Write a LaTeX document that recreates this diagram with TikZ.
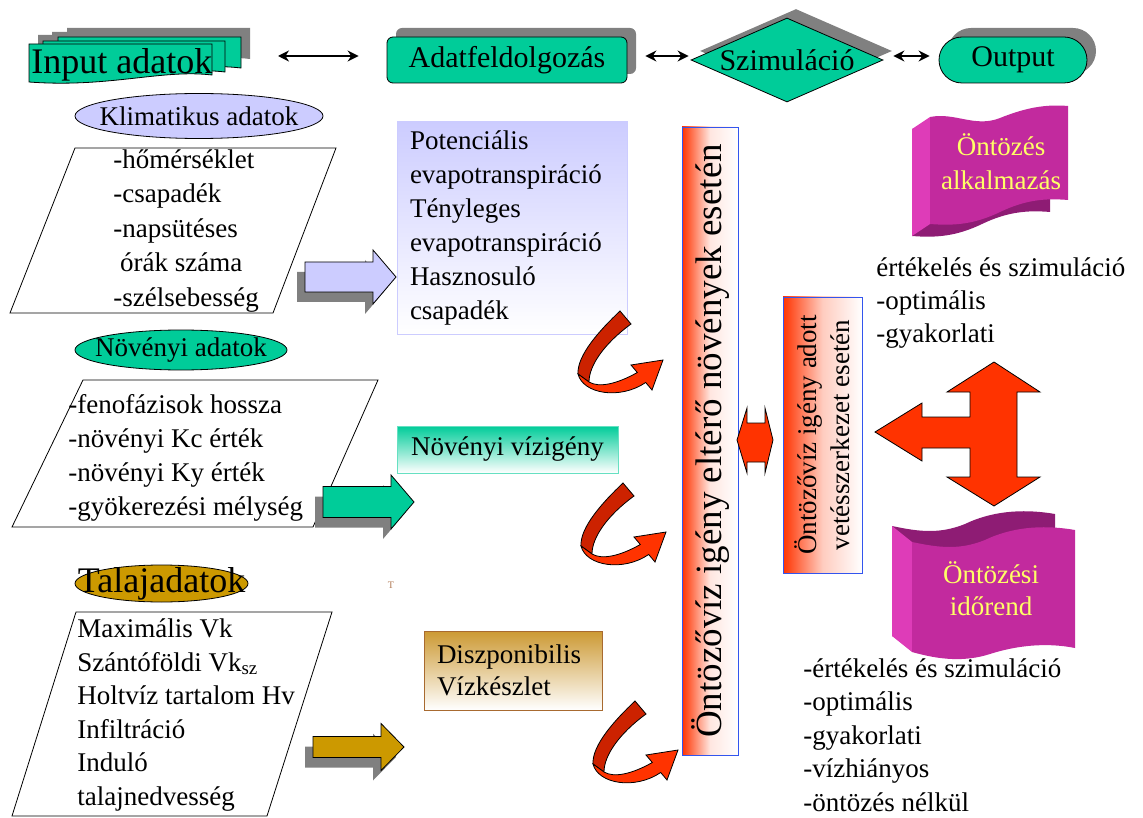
\documentclass[tikz,border=0pt]{standalone}
\usepackage{fontspec}
\setmainfont{Liberation Serif}
\usetikzlibrary{shapes.geometric,shadows,arrows.meta,positioning}

\definecolor{seagreen}{HTML}{00CC99}
\definecolor{lavender}{HTML}{CCCCFF}
\definecolor{golden}{HTML}{CC9900}
\definecolor{dispgold}{HTML}{CC9933}
\definecolor{dispbrown}{HTML}{A86A30}
\definecolor{shadowgray}{HTML}{808080}
\definecolor{hotred}{HTML}{FF3300}
\definecolor{darkred}{HTML}{CC2200}
\definecolor{flagpink}{HTML}{C22A9E}
\definecolor{flagdark}{HTML}{8E1C74}
\definecolor{flaglight}{HTML}{DE3CB8}
\definecolor{flagtext}{HTML}{FFFF66}
\definecolor{boxblue}{HTML}{3355EE}
\definecolor{tbrown}{HTML}{B07A55}

\tikzstyle{huge} = [font=\fontsize{36}{42}\selectfont]
\tikzstyle{big} = [font=\fontsize{30}{36}\selectfont]
\tikzstyle{txt} = [font=\fontsize{27}{34}\selectfont, inner sep=0pt, align=left]
\tikzstyle{upshadow} = [general shadow={fill=shadowgray, shadow xshift=9pt, shadow yshift=9pt}]
\tikzstyle{proc} = [rectangle, draw, fill=seagreen, upshadow, big, minimum height=46pt, inner sep=0pt]
\tikzstyle{dataell} = [ellipse, draw, inner sep=0pt]
\tikzstyle{para} = [draw, fill=white]
\tikzstyle{result} = [rectangle, draw, txt, inner xsep=13pt, inner ysep=0pt]
\tikzstyle{needbox} = [rectangle, draw=boxblue, rotate=90, inner sep=0pt]
\tikzstyle{redfade} = [left color=hotred, right color=white, middle color=white!88!hotred]
\tikzstyle{flagtxt} = [txt, align=center, text=flagtext]
\tikzstyle{dbl} = [{Stealth[length=11pt,width=11pt]}-{Stealth[length=11pt,width=11pt]}, line width=2pt]
\tikzstyle{bigarrow} = [draw, fill=hotred]

% one sheet of the input stack: left, top, right, bottom right, bottom left
\newcommand{\card}[5]{(#1,#2) -- (#3,#2) -- (#3,#4) .. controls (#3-50,#4-6) and (#1+80,#5+6) .. (#1,#5) -- cycle}
% block arrow with shadow: tail x, centre y, shaft half, head half, colour
\newcommand{\blockarrow}[5]{%
  \begin{scope}[shift={(#1,#2)}]
    \fill[shadowgray] (-8,10-#3) -- (60,10-#3) -- (60,10-#4) -- (83,10) -- (60,10+#4) -- (60,10+#3) -- (-8,10+#3) -- cycle;
    \filldraw[fill=#5] (0,-#3) -- (68,-#3) -- (68,-#4) -- (91,0) -- (68,#4) -- (68,#3) -- (0,#3) -- cycle;
  \end{scope}}
% curved red arrow
\newcommand{\uturn}[2]{%
  \begin{scope}[shift={(#1,#2)}]
    \filldraw[fill=darkred] (45,1) .. controls (25,20) and (2,45) .. (3,64) -- (14,72) .. controls (14,55) and (30,33) .. (56,14) -- cycle;
    \filldraw[fill=hotred] (3,64) .. controls (8,84) and (45,90) .. (70.7,72.5) -- (77,80) -- (88,50) -- (56,55) -- (62.3,62.5) .. controls (42,74) and (24,78) .. (14,72) -- cycle;
  \end{scope}}
% wavy sheets
\newcommand{\waveone}{(930,117) .. controls (955,112) and (975,128) .. (1000,118) .. controls (1025,108) and (1045,104) .. (1068,106) -- (1068,200) .. controls (1045,198) and (1025,200) .. (1000,212) .. controls (975,224) and (955,226) .. (930,224) -- cycle}
\newcommand{\wavetwo}{(912,542) .. controls (940,548) and (960,550) .. (985,540) .. controls (1010,528) and (1040,524) .. (1075,530) -- (1075,648) .. controls (1045,642) and (1015,646) .. (990,654) .. controls (965,662) and (940,660) .. (912,652) -- cycle}

\begin{document}
\begin{tikzpicture}[x=1pt, y=-1pt, line width=0.8pt]
	\useasboundingbox (0,0) rectangle (1143,818);

	% Top row
	\fill[shadowgray, shift={(9,-9)}] \card{58}{37}{241}{68}{72};
	\fill[shadowgray, shift={(9,-9)}] \card{43}{41}{225}{72}{76};
	\fill[shadowgray, shift={(9,-9)}] \card{29}{44}{212}{75}{82};
	\filldraw[fill=seagreen] \card{58}{37}{241}{68}{72};
	\filldraw[fill=seagreen] \card{43}{41}{225}{72}{76};
	\filldraw[fill=seagreen] \card{29}{44}{212}{75}{82};
	\node [huge, inner sep=0pt, anchor=base west] (input) at (31,74) {Input adatok};
	\coordinate (cards) at (241,56);
	\node [proc, rounded corners=6pt, minimum width=240pt] (adat) at (507,60) {Adatfeldolgozás};
	\node [diamond, draw, fill=seagreen, upshadow, minimum width=192pt, minimum height=84pt, inner sep=0pt,
		label={[big]center:Szimuláció}] (sim) at (787,60) {};
	\node [proc, rounded corners=23pt, minimum width=148pt] (output) at (1013,60) {Output};

	\draw [dbl, shorten <=37pt, shorten >=28pt] (cards) -- (adat.west |- cards);
	\draw [dbl, shorten <=18pt, shorten >=2pt] (adat.east |- cards) -- (sim.west |- cards);
	\draw [dbl, shorten <=10pt, shorten >=9pt] (sim.east |- cards) -- (output.west |- cards);

	% Input data
	\node [dataell, fill=lavender, minimum width=248pt, minimum height=45pt,
		label={[txt]center:Klimatikus adatok}] (klim) at (199,116) {};
	\path [para] (75,148) -- (336,148) -- (273,313) -- (10,313) -- cycle;
	\node [txt, anchor=west, font=\fontsize{27}{34.5}\selectfont] (klimlist) at (113,231) {-hőmérséklet\\-csapadék\\-napsütéses\\\hspace*{0.25em}órák száma\\-szélsebesség};

	\node [dataell, fill=seagreen, minimum width=212pt, minimum height=40pt,
		label={[txt]center:Növényi adatok}] (noveny) at (181,350) {};
	\path [para] (83,380) -- (378,380) -- (313,527) -- (12,527) -- cycle;
	\node [txt, anchor=west] (novlist) at (68,458.2) {-fenofázisok hossza\\-növényi Kc érték\\-növényi Ky érték\\-gyökerezési mélység};

	\node [dataell, fill=golden, minimum width=173pt, minimum height=37pt,
		label={[huge, inner sep=0pt]center:Talajadatok}] (talaj) at (161.5,583.5) {};
	\path [para] (76,612) -- (332,612) -- (267,816) -- (12,816) -- cycle;
	\node [txt, anchor=west, font=\fontsize{27}{33.5}\selectfont] (talajlist) at (77,715) {Maximális Vk\\Szántóföldi Vk\textsubscript{sz}\\Holtvíz tartalom Hv\\Infiltráció\\Induló\\talajnedvesség};
	\node [font=\fontsize{10}{12}\selectfont, text=tbrown] (tmark) at (391,585) {T};

	\blockarrow{305}{277}{15}{27}{lavender}
	\blockarrow{323}{502}{15.5}{27}{seagreen}
	\blockarrow{313}{747}{10.5}{23.5}{golden}

	% Results
	\node [result, draw=lavender, top color=lavender, bottom color=white, minimum width=230pt,
		minimum height=213pt, text width=204pt] (evapo) at (512,228)
		{Potenciális\\evapotranspiráció\\Tényleges\\evapotranspiráció\\Hasznosuló\\csapadék};
	\node [result, draw=seagreen!60, top color=seagreen, bottom color=white, minimum width=221pt,
		minimum height=47pt] (vizigeny) at (507.5,449.5) {Növényi vízigény};
	\node [result, draw=dispbrown, top color=dispgold, bottom color=white, minimum width=178pt,
		minimum height=79pt, text width=152pt, font=\fontsize{27}{32}\selectfont] (keszlet) at (513,670.5)
		{Diszponibilis\\Vízkészlet};

	\uturn{575}{310}
	\uturn{578}{482}
	\uturn{590}{700}

	% Irrigation demand
	\shade [redfade] (682,127) rectangle (738,755);
	\node [needbox, minimum width=628pt, minimum height=56pt,
		font=\fontsize{37}{44}\selectfont] (igeny) at (710,441) {Öntözővíz igény eltérő növények esetén};
	\shade [left color=hotred, right color=white, middle color=white!75!hotred] (783,297) rectangle (862,573);
	\node [needbox, minimum width=276pt, minimum height=79pt, txt, align=center,
		font=\fontsize{27}{33}\selectfont] (vetes) at (822.5,435) {Öntözővíz igény adott\\vetésszerkezet esetén};
	\path [bigarrow] (737,440) -- (747,408) -- (747,423) -- (765,423) -- (765,408) -- (773,440)
		-- (765,473) -- (765,462) -- (747,462) -- (747,473) -- cycle;

	% Output side
	\fill[flagdark, shift={(-18,12)}] \waveone;
	\fill[flaglight] (930,117) -- (912,129) -- (912,236) -- (930,224) -- cycle;
	\fill[flagpink] \waveone;
	\node [flagtxt] (alkalmaz) at (1001,162) {Öntözés\\alkalmazás};
	\node [txt, anchor=west, font=\fontsize{27}{33}\selectfont] (ertek) at (876,302.7) {értékelés és szimuláció\\-optimális\\-gyakorlati};

	\path [bigarrow] (994,362) -- (1040,392) -- (1017,392) -- (1017,477) -- (1040,477) -- (994,506)
		-- (947,477) -- (970,477) -- (970,448) -- (922,448) -- (922,461) -- (875,432) -- (922,403)
		-- (922,417) -- (970,417) -- (970,392) -- (947,392) -- cycle;

	\fill[flagdark, shift={(-20,-16)}] \wavetwo;
	\fill[flaglight] (912,542) -- (892,526) -- (892,636) -- (912,652) -- cycle;
	\fill[flagpink] \wavetwo;
	\node [flagtxt, font=\fontsize{27}{32}\selectfont] (idorend) at (991,589) {Öntözési\\időrend};
	\node [txt, anchor=west, font=\fontsize{27}{33.5}\selectfont] (ertektwo) at (803,735) {-értékelés és szimuláció\\-optimális\\-gyakorlati\\-vízhiányos\\-öntözés nélkül};

\end{tikzpicture}
\end{document}
